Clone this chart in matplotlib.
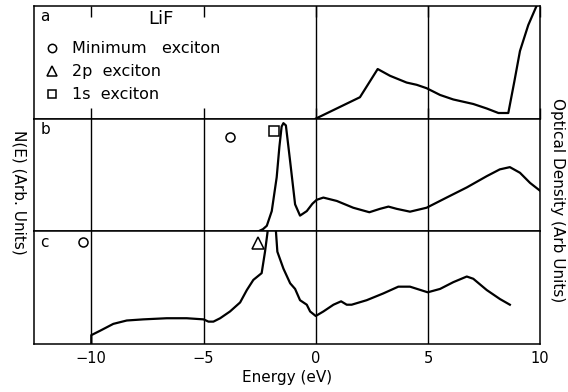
import numpy as np
import matplotlib.pyplot as plt
from matplotlib.lines import Line2D

plt.rcParams['font.family'] = 'DejaVu Sans'

# (a) optical density, arbitrary units
od_energy = [0.0, 1.97, 2.76, 3.31, 4.05, 4.5, 4.94, 5.54, 6.13, 7.02, 7.62,
             8.14, 8.58, 8.85, 9.1, 9.47, 9.84, 10.0]
od_value = [0.0, 0.19, 0.44, 0.38, 0.32, 0.30, 0.27, 0.21, 0.17, 0.13, 0.09,
            0.05, 0.05, 0.33, 0.60, 0.83, 1.0, 1.06]

# (b) density of states, exciton-shifted
dos_b_energy = [-2.56, -2.35, -2.18, -1.96, -1.74, -1.62, -1.52, -1.44, -1.33,
                -1.14, -0.92, -0.70, -0.40, -0.15, 0.04, 0.34, 0.94, 1.67,
                2.39, 2.86, 3.24, 3.61, 4.2, 4.94, 5.83, 6.73, 7.62, 8.2,
                8.65, 9.1, 9.55, 10.0]
dos_b_value = [0.0, 0.02, 0.05, 0.18, 0.48, 0.75, 0.93, 0.96, 0.94, 0.62,
               0.24, 0.14, 0.18, 0.245, 0.28, 0.30, 0.27, 0.21, 0.17, 0.20,
               0.22, 0.20, 0.175, 0.21, 0.30, 0.39, 0.49, 0.55, 0.57, 0.52,
               0.43, 0.36]

# (c) density of states
dos_c_energy = [-10.0, -10.0, -9.6, -9.02, -8.42, -7.68, -6.64, -5.75, -5.0,
                -4.78, -4.56, -4.26, -3.82, -3.37, -3.07, -2.78, -2.41,
                -2.26, -2.15, -2.08, -1.84, -1.77, -1.71, -1.44, -1.14,
                -0.92, -0.70, -0.40, -0.25, 0.0, 0.34, 0.79, 1.13, 1.38,
                1.6, 2.27, 3.01, 3.68, 4.2, 4.99, 5.54, 6.13, 6.73, 7.02,
                7.62, 8.21, 8.65]
dos_c_value = [0.0, 0.08, 0.12, 0.18, 0.21, 0.22, 0.23, 0.23, 0.22, 0.20,
               0.20, 0.23, 0.29, 0.37, 0.48, 0.57, 0.63, 0.82, 0.99, 1.2,
               1.2, 0.99, 0.82, 0.67, 0.54, 0.49, 0.39, 0.35, 0.29, 0.25,
               0.29, 0.35, 0.38, 0.35, 0.35, 0.39, 0.45, 0.51, 0.51, 0.46,
               0.49, 0.55, 0.60, 0.58, 0.48, 0.40, 0.35]

# exciton positions (energy, height) in panels b and c
min_exc_b = (-3.82, 0.84)
one_s_exc_b = (-1.86, 0.89)
min_exc_c = (-10.35, 0.905)
two_p_exc_c = (-2.58, 0.90)

xticks = [-10, -5, 0, 5, 10]

fig, axes = plt.subplots(3, 1, sharex=True, figsize=(5.68, 3.92), dpi=100,
                         gridspec_kw=dict(hspace=0))
fig.subplots_adjust(left=0.06, right=0.951, top=0.985, bottom=0.122)
ax_a, ax_b, ax_c = axes

for ax in axes:
    ax.set_xlim(-12.55, 10)
    ax.set_ylim(0, 1)
    ax.set_yticks([])
    ax.set_xticks(xticks)
    for sp in ax.spines.values():
        sp.set_linewidth(1.1)
    ax.tick_params(axis='x', direction='in', length=0, top=False,
                   labelsize=10.5, pad=5)

# panel a: only short ticks left of zero, full lines for x >= 0
ax_a.tick_params(axis='x', direction='in', length=8, width=1.0,
                 top=True, bottom=True)
for x in [0, 5]:
    ax_a.axvline(x, color='black', lw=1.0)
for ax in (ax_b, ax_c):
    for x in [-10, -5, 0, 5]:
        ax.axvline(x, color='black', lw=1.0)

ax_a.plot(od_energy, od_value, color='black', lw=1.6)
ax_b.plot(dos_b_energy, dos_b_value, color='black', lw=1.6)
ax_c.plot(dos_c_energy, dos_c_value, color='black', lw=1.6)

mk = dict(color='black', mfc='white', mew=1.1, ls='none', clip_on=False)
ax_b.plot(*min_exc_b, marker='o', ms=6.5, **mk)
ax_b.plot(*one_s_exc_b, marker='s', ms=6.5, **mk)
ax_c.plot(*min_exc_c, marker='o', ms=6.5, **mk)
ax_c.plot(*two_p_exc_c, marker='^', ms=8, **mk)

for ax, lab in zip(axes, ['a', 'b', 'c']):
    ax.text(0.012, 0.97, lab, transform=ax.transAxes, ha='left', va='top',
            fontsize=11)

ax_a.text(0.25, 0.88, 'LiF', transform=ax_a.transAxes, ha='center',
          va='center', fontsize=13)
handles = [
    Line2D([], [], marker='o', ms=6, **mk),
    Line2D([], [], marker='^', ms=7.5, **mk),
    Line2D([], [], marker='s', ms=6, **mk),
]
ax_a.legend(handles, ['Minimum   exciton', '2p  exciton', '1s  exciton'],
            loc='upper left', bbox_to_anchor=(0.0, 0.77), frameon=False,
            fontsize=11.5, handlelength=1.0, handletextpad=0.8,
            labelspacing=0.5, borderaxespad=0.2)

ax_c.set_xticklabels(['\u221210', '\u22125', '0', '5', '10'])
ax_c.set_xlabel('Energy (eV)', fontsize=11, labelpad=3)

fig.text(0.034, 0.51, 'N(E) (Arb. Units)', rotation=270, ha='center',
         va='center', fontsize=11)
fig.text(0.982, 0.49, 'Optical Density (Arb Units)', rotation=270,
         ha='center', va='center', fontsize=11)

fig.savefig('out.png', dpi=100)
